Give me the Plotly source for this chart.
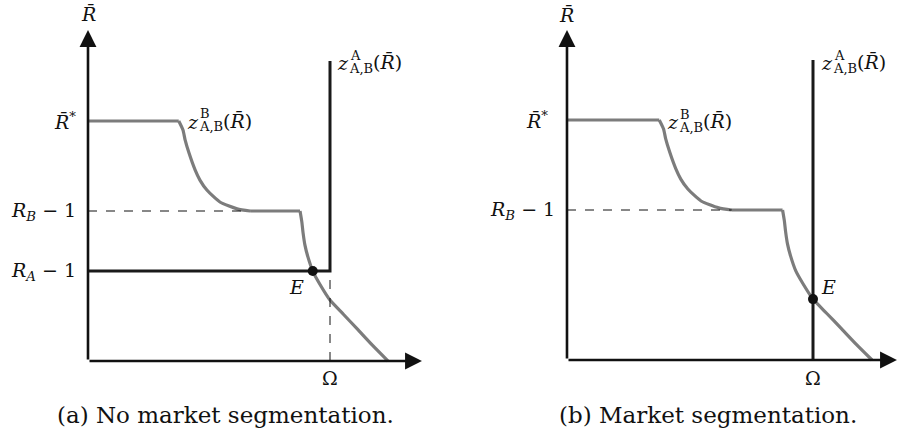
import numpy as np
import plotly.graph_objects as go
from plotly.subplots import make_subplots

# ---- model values (axis units) ----
omega = 8.0          # capacity Ω on the horizontal axis
r_star = 8.0         # R̄*
rb_minus_1 = 5.0     # R_B - 1
ra_minus_1 = 3.0     # R_A - 1
za_top = 10.0        # top of the z^A_{A,B} schedule
x_arrow_end = [11.04, 10.73]
y_arrow_end = [11.03, 11.0]

# z^B_{A,B}(R̄) schedule: upper plateau, first convex drop, middle plateau, second drop
zb_flat1_x = [0.0, 3.0]
zb_flat1_y = [8.0, 8.0]
zb_drop1_x = [3.0, 3.14, 3.21, 3.34, 3.54, 3.70, 3.93, 4.36, 4.93, 5.36]
zb_drop1_y = [8.0, 7.70, 7.37, 6.93, 6.37, 6.03, 5.70, 5.30, 5.07, 5.00]
zb_flat2_x = [5.36, 7.01]
zb_flat2_y = [5.0, 5.0]
zb_drop2_x = [7.01, 7.07, 7.11, 7.17, 7.27, 7.44, 7.67, 8.0, 8.45, 8.9, 9.4, 9.92]
zb_drop2_y = [5.0, 4.63, 4.27, 3.87, 3.47, 2.97, 2.55, 2.03, 1.55, 1.07, 0.53, 0.0]

captions = ["(a) No market segmentation.", "(b) Market segmentation."]

SERIF = "DejaVu Serif"
BLACK = "#111111"
GREY = "#7c7c7c"
FS = 19
FS_SMALL = 13
FS_CAPTION = 23
RBAR = "R\u0304"

fig = make_subplots(rows=1, cols=2, horizontal_spacing=0.0)

# axis ranges chosen so both panels share the same unit size
x_ranges = [[-2.909, 11.934], [-3.837, 10.764]]
y_ranges = [[-2.733, 12.033], [-2.767, 12.0]]


def ann(col, x, y, text, size=FS, **kw):
    ref = "" if col == 1 else "2"
    fig.add_annotation(x=x, y=y, xref="x" + ref, yref="y" + ref, text=text,
                       showarrow=False, font=dict(family=SERIF, size=size, color=BLACK),
                       **kw)


def z_label(col, x, y, sup):
    ann(col, x, y, "<i>z</i>", xanchor="center", yanchor="middle")
    ann(col, x, y, sup, size=FS_SMALL, xanchor="left", yanchor="middle", xshift=5, yshift=8)
    ann(col, x, y, "A,B", size=FS_SMALL, xanchor="left", yanchor="middle", xshift=4, yshift=-5)
    ann(col, x, y, "(<i>" + RBAR + "</i>)", xanchor="left", yanchor="middle", xshift=28, yshift=1)


def arrow(col, x0, y0, x1, y1):
    ref = "" if col == 1 else "2"
    fig.add_annotation(x=x1, y=y1, ax=x0, ay=y0, xref="x" + ref, yref="y" + ref,
                       axref="x" + ref, ayref="y" + ref, text="", showarrow=True,
                       arrowhead=2, arrowsize=1.3, arrowwidth=2.6, arrowcolor=BLACK)


def line(col, xs, ys, color, width, dash="solid", shape="linear"):
    fig.add_trace(go.Scatter(x=xs, y=ys, mode="lines", hoverinfo="skip",
                             line=dict(color=color, width=width, dash=dash, shape=shape,
                                       smoothing=0.6)),
                  row=1, col=col)


for col in (1, 2):
    # z^B schedule
    line(col, zb_flat1_x, zb_flat1_y, GREY, 3.2)
    line(col, zb_drop1_x, zb_drop1_y, GREY, 3.2, shape="spline")
    line(col, zb_flat2_x, zb_flat2_y, GREY, 3.2)
    line(col, zb_drop2_x, zb_drop2_y, GREY, 3.2, shape="spline")
    # R_B - 1 guide
    line(col, [0, zb_drop1_x[-1]], [rb_minus_1, rb_minus_1], BLACK, 1, dash="dash")

# panel (a): z^A is flat at R_A - 1 up to Ω, then vertical
line(1, [omega, omega], [0, ra_minus_1], BLACK, 1, dash="dash")
line(1, [0, omega, omega], [ra_minus_1, ra_minus_1, za_top], "#1a1a1a", 3)
e_a_x = float(np.interp(-ra_minus_1, -np.array(zb_drop2_y), zb_drop2_x))
fig.add_trace(go.Scatter(x=[e_a_x], y=[ra_minus_1], mode="markers", hoverinfo="skip",
                         marker=dict(color=BLACK, size=10)), row=1, col=1)

# panel (b): z^A is vertical at Ω
line(2, [omega, omega], [0, za_top], "#1a1a1a", 3)
e_b_y = float(np.interp(omega, zb_drop2_x, zb_drop2_y))
fig.add_trace(go.Scatter(x=[omega], y=[e_b_y], mode="markers", hoverinfo="skip",
                         marker=dict(color=BLACK, size=10)), row=1, col=2)

# axes with arrowheads
for col in (1, 2):
    arrow(col, 0, 0, x_arrow_end[col - 1], 0)
    arrow(col, 0, 0, 0, y_arrow_end[col - 1])

# labels, panel (a)
ann(1, 0, 11.55, "<i>" + RBAR + "</i>", xanchor="center", yanchor="middle")
ann(1, -0.33, r_star, "<i>" + RBAR + "</i><sup>*</sup>", xanchor="right", yanchor="middle")
ann(1, -0.33, rb_minus_1, "<i>R<sub>B</sub></i> \u2212 1", xanchor="right", yanchor="middle")
ann(1, -0.33, ra_minus_1, "<i>R<sub>A</sub></i> \u2212 1", xanchor="right", yanchor="middle")
ann(1, omega, -0.57, "\u03a9", xanchor="center", yanchor="middle")
ann(1, 6.88, 2.47, "<i>E</i>", xanchor="center", yanchor="middle")
z_label(1, 3.47, 7.97, "B")
z_label(1, 8.43, 9.93, "A")

# labels, panel (b)
ann(2, 0, 11.5, "<i>" + RBAR + "</i>", xanchor="center", yanchor="middle")
ann(2, -0.55, r_star, "<i>" + RBAR + "</i><sup>*</sup>", xanchor="right", yanchor="middle")
ann(2, -0.33, rb_minus_1, "<i>R<sub>B</sub></i> \u2212 1", xanchor="right", yanchor="middle")
ann(2, omega, -0.6, "\u03a9", xanchor="center", yanchor="middle")
ann(2, 8.49, 2.43, "<i>E</i>", xanchor="center", yanchor="middle")
z_label(2, 3.45, 7.93, "B")
z_label(2, 8.46, 9.9, "A")

# captions
for cx, text in zip([0.2506, 0.788], captions):
    fig.add_annotation(x=cx, y=0.063, xref="paper", yref="paper", text=text, showarrow=False,
                       xanchor="center", yanchor="middle",
                       font=dict(family=SERIF, size=FS_CAPTION, color=BLACK))

fig.update_xaxes(visible=False, fixedrange=True)
fig.update_yaxes(visible=False, fixedrange=True)
fig.update_layout(xaxis=dict(domain=[0, 0.5], range=x_ranges[0]),
                  xaxis2=dict(domain=[0.5, 1], range=x_ranges[1]),
                  yaxis=dict(domain=[0, 1], range=y_ranges[0]),
                  yaxis2=dict(domain=[0, 1], range=y_ranges[1]),
                  width=898, height=443, margin=dict(l=0, r=0, t=0, b=0),
                  paper_bgcolor="white", plot_bgcolor="white", showlegend=False)

fig.write_html("out.html")
